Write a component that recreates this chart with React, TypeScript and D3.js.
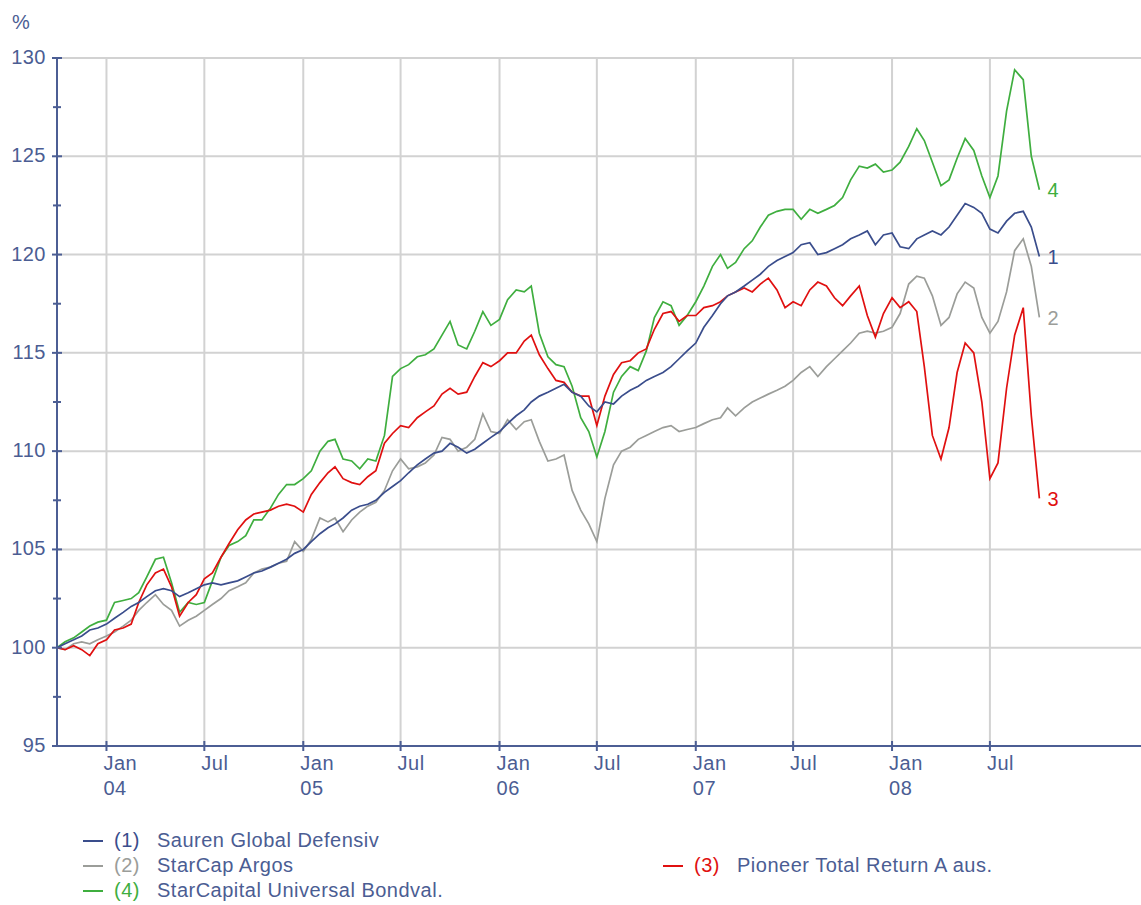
import * as d3 from 'd3';

// semi-monthly observation dates, Oct 2003 .. Oct 2008
const start = new Date(Date.UTC(2003, 9, 1));
const stop = new Date(Date.UTC(2008, 9, 1));
const dates: Date[] = [];
d3.utcMonth.range(start, stop).forEach(m => {
  dates.push(m);
  dates.push(new Date(Date.UTC(m.getUTCFullYear(), m.getUTCMonth(), 16)));
});
dates.push(stop);

const sauren = [
  100.0, 100.2, 100.4, 100.6, 100.9, 101.0, 101.2, 101.5, 101.8, 102.1,
  102.3, 102.6, 102.9, 103.0, 102.9, 102.6, 102.8, 103.0, 103.2, 103.3,
  103.2, 103.3, 103.4, 103.6, 103.8, 103.9, 104.1, 104.3, 104.5, 104.8,
  105.0, 105.4, 105.8, 106.1, 106.3, 106.6, 107.0, 107.2, 107.3, 107.5,
  107.9, 108.2, 108.5, 108.9, 109.3, 109.6, 109.9, 110.0, 110.4, 110.2,
  109.9, 110.1, 110.4, 110.7, 111.0, 111.4, 111.8, 112.1, 112.5, 112.8,
  113.0, 113.2, 113.4, 113.0, 112.8, 112.3, 112.0, 112.5, 112.4, 112.8,
  113.1, 113.3, 113.6, 113.8, 114.0, 114.3, 114.7, 115.1, 115.5, 116.3,
  116.9, 117.5, 117.9, 118.1, 118.4, 118.7, 119.0, 119.4, 119.7, 119.9,
  120.1, 120.5, 120.6, 120.0, 120.1, 120.3, 120.5, 120.8, 121.0, 121.2,
  120.5, 121.0, 121.1, 120.4, 120.3, 120.8, 121.0, 121.2, 121.0, 121.4,
  122.0, 122.6, 122.4, 122.1, 121.3, 121.1, 121.7, 122.1, 122.2, 121.4,
  119.9,
];

const argos = [
  100.0, 99.9, 100.2, 100.3, 100.2, 100.4, 100.6, 100.8, 101.1, 101.4,
  101.9, 102.3, 102.7, 102.2, 101.9, 101.1, 101.4, 101.6, 101.9, 102.2,
  102.5, 102.9, 103.1, 103.3, 103.8, 104.0, 104.1, 104.3, 104.4, 105.4,
  104.9, 105.5, 106.6, 106.4, 106.6, 105.9, 106.5, 106.9, 107.2, 107.4,
  108.0, 109.0, 109.6, 109.1, 109.2, 109.4, 109.8, 110.7, 110.6, 110.0,
  110.2, 110.6, 111.9, 111.0, 110.9, 111.6, 111.1, 111.5, 111.6, 110.5,
  109.5, 109.6, 109.8, 108.0, 107.0, 106.3, 105.4, 107.6, 109.3, 110.0,
  110.2, 110.6, 110.8, 111.0, 111.2, 111.3, 111.0, 111.1, 111.2, 111.4,
  111.6, 111.7, 112.2, 111.8, 112.2, 112.5, 112.7, 112.9, 113.1, 113.3,
  113.6, 114.0, 114.3, 113.8, 114.3, 114.7, 115.1, 115.5, 116.0, 116.1,
  116.0, 116.1, 116.3, 117.0, 118.5, 118.9, 118.8, 117.9, 116.4, 116.8,
  118.0, 118.6, 118.3, 116.8, 116.0, 116.6, 118.1, 120.2, 120.8, 119.4,
  116.8,
];

const pioneer = [
  100.0, 99.9, 100.1, 99.9, 99.6, 100.2, 100.4, 100.9, 101.0, 101.2,
  102.3, 103.2, 103.8, 104.0, 103.1, 101.6, 102.3, 102.7, 103.5, 103.8,
  104.6, 105.3, 106.0, 106.5, 106.8, 106.9, 107.0, 107.2, 107.3, 107.2,
  106.9, 107.8, 108.4, 108.9, 109.2, 108.6, 108.4, 108.3, 108.7, 109.0,
  110.4, 110.9, 111.3, 111.2, 111.7, 112.0, 112.3, 112.9, 113.2, 112.9,
  113.0, 113.8, 114.5, 114.3, 114.6, 115.0, 115.0, 115.6, 115.9, 114.9,
  114.2, 113.6, 113.5, 113.0, 112.8, 112.8, 111.3, 112.8, 113.9, 114.5,
  114.6, 115.0, 115.2, 116.2, 117.0, 117.1, 116.6, 116.9, 116.9, 117.3,
  117.4, 117.6, 117.9, 118.1, 118.3, 118.1, 118.5, 118.8, 118.2, 117.3,
  117.6, 117.4, 118.2, 118.6, 118.4, 117.8, 117.4, 117.9, 118.4, 116.9,
  115.8, 117.0, 117.8, 117.3, 117.6, 117.1, 114.3, 110.8, 109.6, 111.2,
  114.0, 115.5, 115.0, 112.5, 108.6, 109.4, 113.2, 115.9, 117.3, 111.8,
  107.6,
];

const bondval = [
  100.0, 100.3, 100.5, 100.8, 101.1, 101.3, 101.4, 102.3, 102.4, 102.5,
  102.8, 103.6, 104.5, 104.6, 103.3, 101.8, 102.3, 102.2, 102.3, 103.4,
  104.6, 105.2, 105.4, 105.7, 106.5, 106.5, 107.1, 107.8, 108.3, 108.3,
  108.6, 109.0, 110.0, 110.5, 110.6, 109.6, 109.5, 109.1, 109.6, 109.5,
  110.8, 113.8, 114.2, 114.4, 114.8, 114.9, 115.2, 115.9, 116.6, 115.4,
  115.2, 116.1, 117.1, 116.4, 116.7, 117.7, 118.2, 118.1, 118.4, 116.0,
  114.8, 114.4, 114.3, 113.3, 111.7, 111.0, 109.7, 111.0, 113.0, 113.8,
  114.3, 114.1, 115.1, 116.8, 117.6, 117.4, 116.4, 116.9, 117.6, 118.4,
  119.4, 120.0, 119.3, 119.6, 120.3, 120.7, 121.4, 122.0, 122.2, 122.3,
  122.3, 121.8, 122.3, 122.1, 122.3, 122.5, 122.9, 123.8, 124.5, 124.4,
  124.6, 124.2, 124.3, 124.7, 125.5, 126.4, 125.8, 124.7, 123.5, 123.8,
  124.9, 125.9, 125.3, 124.0, 122.9, 124.0, 127.3, 129.4, 128.9, 125.0,
  123.3,
];

const yTicks = [95, 100, 105, 110, 115, 120, 125, 130];

const series = [
  { id: 2, name: 'StarCap Argos', color: '#9b9d99', values: argos },
  { id: 4, name: 'StarCapital Universal Bondval.', color: '#3fae3f', values: bondval },
  { id: 3, name: 'Pioneer Total Return A aus.', color: '#e01010', values: pioneer },
  { id: 1, name: 'Sauren Global Defensiv', color: '#3a4d8c', values: sauren },
];

const legendOrder = [1, 2, 4, 3];

const AXIS = '#4c5e94';
const TEXT = '#4b5d93';
const GRID = '#d2d2d2';
const FONT = '"Liberation Sans", Arial, sans-serif';

export default function App() {
  const width = 1141;
  const height = 905;
  const left = 57, right = 1141, top = 58, bottom = 746;

  const x = d3.scaleUtc()
    .domain([new Date(Date.UTC(2003, 9, 1)), new Date(Date.UTC(2009, 3, 8))])
    .range([left, right]);
  const y = d3.scaleLinear().domain([95, 130]).range([bottom, top]);

  const gridDates = d3.utcMonth.every(6)!.range(new Date(Date.UTC(2004, 0, 1)), new Date(Date.UTC(2009, 0, 1)));
  const minorTicks = d3.range(97.5, 130, 5);

  const line = (vals: number[]) =>
    d3.line<number>()
      .x((_, i) => x(dates[i]))
      .y(d => y(d))
      .curve(d3.curveLinear)(vals) || '';

  return (
    <svg width={width} height={height} style={{ position: 'absolute', left: 0, top: 0, background: '#fff' }}
      fontFamily={FONT}>
      {/* grid */}
      {yTicks.filter(t => t > 95).map(t => (
        <line key={'h' + t} x1={left} x2={right} y1={y(t)} y2={y(t)} stroke={GRID} strokeWidth={2} />
      ))}
      {gridDates.map(d => (
        <line key={'v' + d.getTime()} x1={x(d)} x2={x(d)} y1={top} y2={bottom} stroke={GRID} strokeWidth={2} />
      ))}

      {/* series */}
      {series.map(s => (
        <path key={s.id} d={line(s.values)} fill="none" stroke={s.color} strokeWidth={1.7}
          strokeLinejoin="miter" />
      ))}

      {/* end labels */}
      {series.map(s => (
        <text key={'e' + s.id} x={x(dates[dates.length - 1]) + 8} y={y(s.values[s.values.length - 1])}
          dy="0.38em" fill={s.color} fontSize={20}>{s.id}</text>
      ))}

      {/* axes */}
      <line x1={left} x2={left} y1={top} y2={bottom} stroke={AXIS} strokeWidth={2} />
      <line x1={left} x2={right} y1={bottom} y2={bottom} stroke={AXIS} strokeWidth={2} />
      {yTicks.map(t => (
        <g key={'yt' + t}>
          <line x1={left - 5} x2={left + 5} y1={y(t)} y2={y(t)} stroke={AXIS} strokeWidth={2} />
          <text x={left - 11} y={y(t)} dy="0.3em" textAnchor="end" fill={TEXT} fontSize={20}
            letterSpacing={0.5}>{t}</text>
        </g>
      ))}
      {minorTicks.map(t => (
        <line key={'ym' + t} x1={left - 4} x2={left + 4} y1={y(t)} y2={y(t)} stroke={AXIS} strokeWidth={2} />
      ))}
      {gridDates.map(d => {
        const isJan = d.getUTCMonth() === 0;
        return (
          <g key={'xt' + d.getTime()}>
            <line x1={x(d)} x2={x(d)} y1={bottom - 5} y2={bottom + 5} stroke={AXIS} strokeWidth={2} />
            <text x={x(d) - 3} y={770} fill={TEXT} fontSize={20} letterSpacing={0.5}>
              {isJan ? 'Jan' : 'Jul'}
            </text>
            {isJan && (
              <text x={x(d) - 3} y={795} fill={TEXT} fontSize={20} letterSpacing={0.5}>
                {d3.utcFormat('%y')(d)}
              </text>
            )}
          </g>
        );
      })}
      <text x={12} y={29} fill={TEXT} fontSize={20}>%</text>

      {/* legend */}
      {legendOrder.map((id, i) => {
        const s = series.find(v => v.id === id)!;
        const col = i < 3 ? 0 : 1;
        const row = i < 3 ? i : 1;
        const lx = col === 0 ? 83 : 663;
        const by = 847 + row * 25;
        return (
          <g key={'lg' + id}>
            <line x1={lx} x2={lx + 20} y1={by - 6} y2={by - 6} stroke={s.color} strokeWidth={2} />
            <text x={lx + 31} y={by} fill={s.color} fontSize={20} letterSpacing={0.5}>({id})</text>
            <text x={lx + 74} y={by} fill={TEXT} fontSize={20} letterSpacing={0.5}>{s.name}</text>
          </g>
        );
      })}
    </svg>
  );
}
